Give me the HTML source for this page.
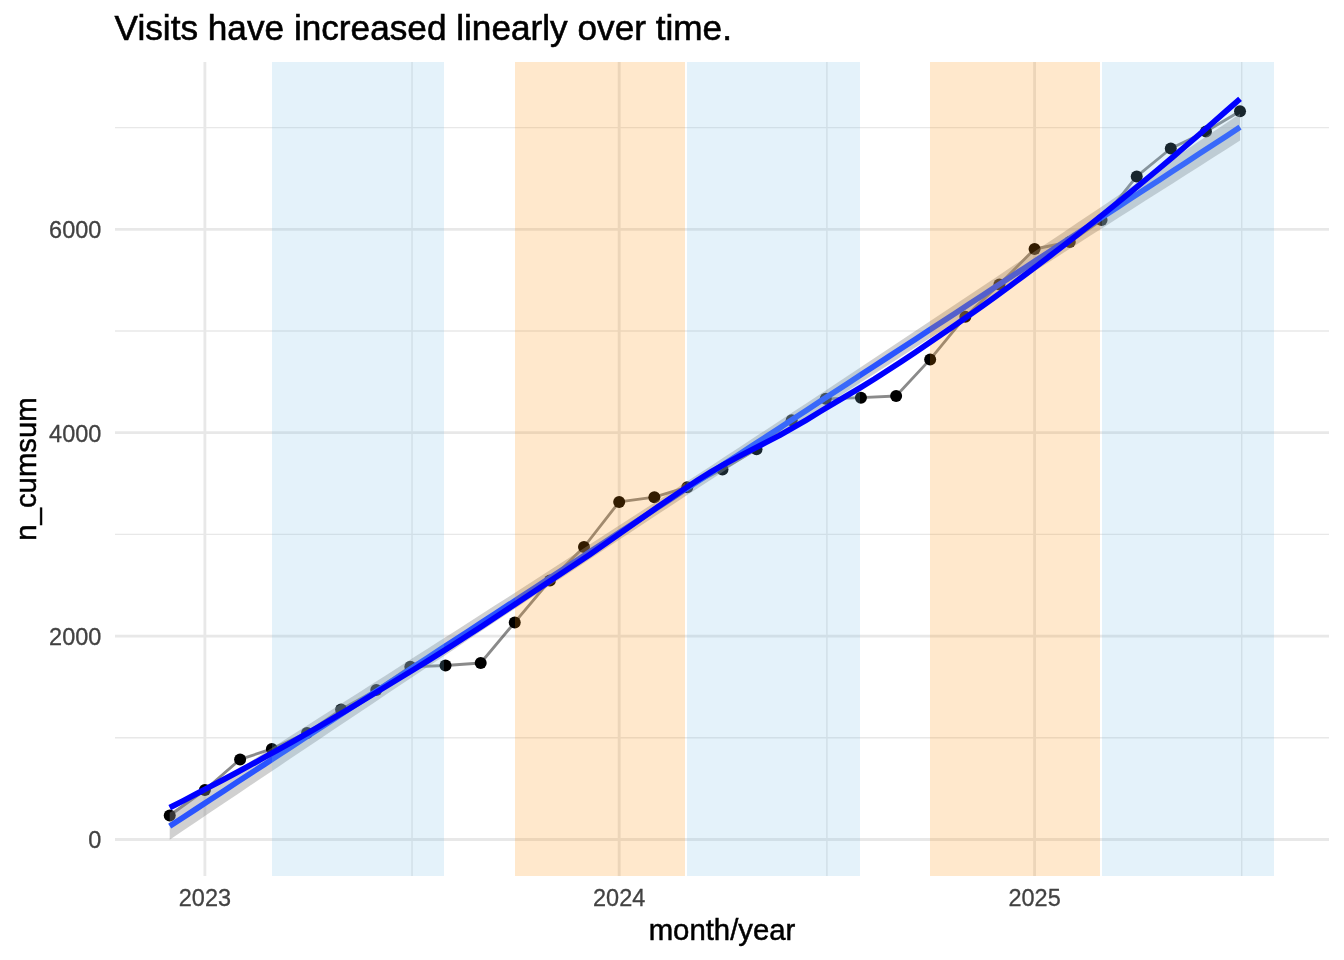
<!DOCTYPE html>
<html lang="en"><head><meta charset="utf-8"><title>Visits have increased linearly over time.</title>
<style>html,body{margin:0;padding:0;background:#fff}svg{display:block}</style></head>
<body>
<svg width="1344" height="960" viewBox="0 0 1344 960">
<rect width="1344" height="960" fill="#fff"/>
<line x1="115.0" x2="1329.0" y1="737.80" y2="737.80" stroke="#E8E8E8" stroke-width="1.42"/>
<line x1="115.0" x2="1329.0" y1="534.40" y2="534.40" stroke="#E8E8E8" stroke-width="1.42"/>
<line x1="115.0" x2="1329.0" y1="331.00" y2="331.00" stroke="#E8E8E8" stroke-width="1.42"/>
<line x1="115.0" x2="1329.0" y1="127.60" y2="127.60" stroke="#E8E8E8" stroke-width="1.42"/>
<line y1="62.0" y2="876.0" x1="412.04" x2="412.04" stroke="#E8E8E8" stroke-width="1.42"/>
<line y1="62.0" y2="876.0" x1="826.88" x2="826.88" stroke="#E8E8E8" stroke-width="1.42"/>
<line y1="62.0" y2="876.0" x1="1241.72" x2="1241.72" stroke="#E8E8E8" stroke-width="1.42"/>
<line x1="115.0" x2="1329.0" y1="839.50" y2="839.50" stroke="#E8E8E8" stroke-width="2.84"/>
<line x1="115.0" x2="1329.0" y1="636.10" y2="636.10" stroke="#E8E8E8" stroke-width="2.84"/>
<line x1="115.0" x2="1329.0" y1="432.70" y2="432.70" stroke="#E8E8E8" stroke-width="2.84"/>
<line x1="115.0" x2="1329.0" y1="229.30" y2="229.30" stroke="#E8E8E8" stroke-width="2.84"/>
<line y1="62.0" y2="876.0" x1="204.90" x2="204.90" stroke="#E8E8E8" stroke-width="2.84"/>
<line y1="62.0" y2="876.0" x1="619.17" x2="619.17" stroke="#E8E8E8" stroke-width="2.84"/>
<line y1="62.0" y2="876.0" x1="1034.59" x2="1034.59" stroke="#E8E8E8" stroke-width="2.84"/>
<path d="M169.72,815.50 L204.90,790.00 L240.09,759.40 L271.87,748.90 L307.05,732.90 L341.10,709.60 L376.28,689.90 L410.34,666.80 L445.52,665.50 L480.71,663.00 L514.75,622.40 L549.94,580.50 L583.99,547.00 L619.17,501.90 L654.36,497.20 L687.27,487.20 L722.46,469.60 L756.51,449.20 L791.69,420.20 L825.75,398.80 L860.93,397.70 L896.12,396.00 L930.16,359.40 L965.35,316.70 L999.40,284.40 L1034.59,249.00 L1069.77,242.00 L1101.55,220.10 L1136.74,176.40 L1170.79,148.50 L1205.97,131.50 L1240.02,111.30" fill="none" stroke="#000" stroke-opacity="0.46" stroke-width="2.84" stroke-linejoin="round"/>
<circle cx="169.72" cy="815.50" r="6" fill="#000"/>
<circle cx="204.90" cy="790.00" r="6" fill="#000"/>
<circle cx="240.09" cy="759.40" r="6" fill="#000"/>
<circle cx="271.87" cy="748.90" r="6" fill="#000"/>
<circle cx="307.05" cy="732.90" r="6" fill="#000"/>
<circle cx="341.10" cy="709.60" r="6" fill="#000"/>
<circle cx="376.28" cy="689.90" r="6" fill="#000"/>
<circle cx="410.34" cy="666.80" r="6" fill="#000"/>
<circle cx="445.52" cy="665.50" r="6" fill="#000"/>
<circle cx="480.71" cy="663.00" r="6" fill="#000"/>
<circle cx="514.75" cy="622.40" r="6" fill="#000"/>
<circle cx="549.94" cy="580.50" r="6" fill="#000"/>
<circle cx="583.99" cy="547.00" r="6" fill="#000"/>
<circle cx="619.17" cy="501.90" r="6" fill="#000"/>
<circle cx="654.36" cy="497.20" r="6" fill="#000"/>
<circle cx="687.27" cy="487.20" r="6" fill="#000"/>
<circle cx="722.46" cy="469.60" r="6" fill="#000"/>
<circle cx="756.51" cy="449.20" r="6" fill="#000"/>
<circle cx="791.69" cy="420.20" r="6" fill="#000"/>
<circle cx="825.75" cy="398.80" r="6" fill="#000"/>
<circle cx="860.93" cy="397.70" r="6" fill="#000"/>
<circle cx="896.12" cy="396.00" r="6" fill="#000"/>
<circle cx="930.16" cy="359.40" r="6" fill="#000"/>
<circle cx="965.35" cy="316.70" r="6" fill="#000"/>
<circle cx="999.40" cy="284.40" r="6" fill="#000"/>
<circle cx="1034.59" cy="249.00" r="6" fill="#000"/>
<circle cx="1069.77" cy="242.00" r="6" fill="#000"/>
<circle cx="1101.55" cy="220.10" r="6" fill="#000"/>
<circle cx="1136.74" cy="176.40" r="6" fill="#000"/>
<circle cx="1170.79" cy="148.50" r="6" fill="#000"/>
<circle cx="1205.97" cy="131.50" r="6" fill="#000"/>
<circle cx="1240.02" cy="111.30" r="6" fill="#000"/>
<path d="M169.72,812.77 L183.26,804.18 L196.81,795.58 L210.36,786.97 L223.91,778.37 L237.46,769.76 L251.00,761.16 L264.55,752.55 L278.10,743.93 L291.65,735.32 L305.20,726.70 L318.74,718.08 L332.29,709.45 L345.84,700.82 L359.39,692.19 L372.94,683.56 L386.49,674.92 L400.03,666.27 L413.58,657.62 L427.13,648.97 L440.68,640.31 L454.23,631.65 L467.77,622.97 L481.32,614.30 L494.87,605.61 L508.42,596.92 L521.97,588.22 L535.52,579.52 L549.06,570.80 L562.61,562.08 L576.16,553.34 L589.71,544.60 L603.26,535.85 L616.80,527.08 L630.35,518.30 L643.90,509.52 L657.45,500.72 L671.00,491.91 L684.55,483.08 L698.09,474.25 L711.64,465.40 L725.19,456.54 L738.74,447.67 L752.29,438.78 L765.83,429.89 L779.38,420.98 L792.93,412.06 L806.48,403.13 L820.03,394.19 L833.58,385.23 L847.12,376.27 L860.67,367.30 L874.22,358.32 L887.77,349.33 L901.32,340.33 L914.86,331.33 L928.41,322.32 L941.96,313.30 L955.51,304.27 L969.06,295.24 L982.60,286.21 L996.15,277.16 L1009.70,268.12 L1023.25,259.06 L1036.80,250.01 L1050.35,240.95 L1063.89,231.88 L1077.44,222.82 L1090.99,213.74 L1104.54,204.67 L1118.09,195.59 L1131.63,186.51 L1145.18,177.43 L1158.73,168.34 L1172.28,159.26 L1185.83,150.17 L1199.38,141.07 L1212.92,131.98 L1226.47,122.88 L1240.02,113.78 L1240.02,140.62 L1226.47,149.21 L1212.92,157.81 L1199.38,166.42 L1185.83,175.02 L1172.28,183.63 L1158.73,192.23 L1145.18,200.84 L1131.63,209.46 L1118.09,218.07 L1104.54,226.69 L1090.99,235.31 L1077.44,243.94 L1063.89,252.57 L1050.35,261.20 L1036.80,269.83 L1023.25,278.47 L1009.70,287.12 L996.15,295.77 L982.60,304.42 L969.06,313.08 L955.51,321.75 L941.96,330.42 L928.41,339.10 L914.86,347.78 L901.32,356.47 L887.77,365.17 L874.22,373.88 L860.67,382.59 L847.12,391.32 L833.58,400.05 L820.03,408.80 L806.48,417.55 L792.93,426.32 L779.38,435.09 L765.83,443.88 L752.29,452.68 L738.74,461.49 L725.19,470.32 L711.64,479.15 L698.09,488.00 L684.55,496.86 L671.00,505.73 L657.45,514.62 L643.90,523.52 L630.35,532.42 L616.80,541.35 L603.26,550.28 L589.71,559.22 L576.16,568.17 L562.61,577.13 L549.06,586.11 L535.52,595.09 L521.97,604.08 L508.42,613.07 L494.87,622.08 L481.32,631.09 L467.77,640.11 L454.23,649.13 L440.68,658.17 L427.13,667.20 L413.58,676.24 L400.03,685.29 L386.49,694.34 L372.94,703.40 L359.39,712.46 L345.84,721.53 L332.29,730.59 L318.74,739.67 L305.20,748.74 L291.65,757.82 L278.10,766.90 L264.55,775.98 L251.00,785.07 L237.46,794.15 L223.91,803.24 L210.36,812.34 L196.81,821.43 L183.26,830.53 L169.72,839.63Z" fill="#8A8A8A" fill-opacity="0.4"/>
<path d="M169.72,826.20 L183.26,817.35 L196.81,808.50 L210.36,799.66 L223.91,790.81 L237.46,781.96 L251.00,773.11 L264.55,764.26 L278.10,755.42 L291.65,746.57 L305.20,737.72 L318.74,728.87 L332.29,720.02 L345.84,711.17 L359.39,702.33 L372.94,693.48 L386.49,684.63 L400.03,675.78 L413.58,666.93 L427.13,658.09 L440.68,649.24 L454.23,640.39 L467.77,631.54 L481.32,622.69 L494.87,613.85 L508.42,605.00 L521.97,596.15 L535.52,587.30 L549.06,578.45 L562.61,569.61 L576.16,560.76 L589.71,551.91 L603.26,543.06 L616.80,534.21 L630.35,525.36 L643.90,516.52 L657.45,507.67 L671.00,498.82 L684.55,489.97 L698.09,481.12 L711.64,472.28 L725.19,463.43 L738.74,454.58 L752.29,445.73 L765.83,436.88 L779.38,428.04 L792.93,419.19 L806.48,410.34 L820.03,401.49 L833.58,392.64 L847.12,383.79 L860.67,374.95 L874.22,366.10 L887.77,357.25 L901.32,348.40 L914.86,339.55 L928.41,330.71 L941.96,321.86 L955.51,313.01 L969.06,304.16 L982.60,295.31 L996.15,286.47 L1009.70,277.62 L1023.25,268.77 L1036.80,259.92 L1050.35,251.07 L1063.89,242.23 L1077.44,233.38 L1090.99,224.53 L1104.54,215.68 L1118.09,206.83 L1131.63,197.98 L1145.18,189.14 L1158.73,180.29 L1172.28,171.44 L1185.83,162.59 L1199.38,153.74 L1212.92,144.90 L1226.47,136.05 L1240.02,127.20" fill="none" stroke="#2A54FF" stroke-width="5.69"/>
<rect x="272.00" y="62.0" width="172.00" height="814.0" fill="rgba(122,192,230,0.2)"/>
<rect x="515.00" y="62.0" width="170.00" height="814.0" fill="rgba(255,140,0,0.2)"/>
<rect x="687.00" y="62.0" width="173.00" height="814.0" fill="rgba(122,192,230,0.2)"/>
<rect x="930.00" y="62.0" width="170.00" height="814.0" fill="rgba(255,140,0,0.2)"/>
<rect x="1102.00" y="62.0" width="172.00" height="814.0" fill="rgba(122,192,230,0.2)"/>
<path d="M169.72,807.61 L183.26,800.66 L196.81,793.64 L210.36,786.55 L223.91,779.38 L237.46,772.13 L251.00,764.79 L264.55,757.37 L278.10,749.85 L291.65,742.24 L305.20,734.51 L318.74,726.68 L332.29,718.74 L345.84,710.71 L359.39,702.60 L372.94,694.42 L386.49,686.18 L400.03,677.90 L413.58,669.58 L427.13,661.23 L440.68,652.78 L454.23,644.17 L467.77,635.45 L481.32,626.60 L494.87,617.66 L508.42,608.66 L521.97,599.63 L535.52,590.60 L549.06,581.59 L562.61,572.63 L576.16,563.68 L589.71,554.52 L603.26,545.18 L616.80,535.67 L630.35,526.12 L643.90,516.60 L657.45,507.15 L671.00,497.85 L684.55,488.76 L698.09,479.93 L711.64,471.53 L725.19,463.71 L738.74,456.38 L752.29,449.42 L765.83,442.58 L779.38,435.52 L792.93,427.85 L806.48,419.94 L820.03,411.66 L833.58,403.48 L847.12,395.47 L860.67,387.48 L874.22,379.17 L887.77,370.44 L901.32,361.55 L914.86,352.51 L928.41,343.34 L941.96,334.14 L955.51,324.84 L969.06,315.41 L982.60,305.86 L996.15,296.13 L1009.70,286.19 L1023.25,276.12 L1036.80,265.94 L1050.35,255.63 L1063.89,245.20 L1077.44,234.66 L1090.99,223.99 L1104.54,213.20 L1118.09,202.28 L1131.63,191.25 L1145.18,180.10 L1158.73,168.83 L1172.28,157.45 L1185.83,145.95 L1199.38,134.33 L1212.92,122.59 L1226.47,110.74 L1240.02,98.77" fill="none" stroke="#0000FF" stroke-width="5.69" stroke-linejoin="round"/>
<text x="114.6" y="39.8" font-family="Liberation Sans, Arial, Helvetica, sans-serif" font-size="35.2" fill="#000" stroke="#000" stroke-width="0.6">Visits have increased linearly over time.</text>
<text x="101.3" y="848.0" font-family="Liberation Sans, Arial, Helvetica, sans-serif" font-size="23.47" fill="#424242" stroke="#424242" stroke-width="0.3" text-anchor="end">0</text>
<text x="101.3" y="645.0" font-family="Liberation Sans, Arial, Helvetica, sans-serif" font-size="23.47" fill="#424242" stroke="#424242" stroke-width="0.3" text-anchor="end">2000</text>
<text x="101.3" y="442.0" font-family="Liberation Sans, Arial, Helvetica, sans-serif" font-size="23.47" fill="#424242" stroke="#424242" stroke-width="0.3" text-anchor="end">4000</text>
<text x="101.3" y="237.9" font-family="Liberation Sans, Arial, Helvetica, sans-serif" font-size="23.47" fill="#424242" stroke="#424242" stroke-width="0.3" text-anchor="end">6000</text>
<text x="204.90" y="906.3" font-family="Liberation Sans, Arial, Helvetica, sans-serif" font-size="23.47" fill="#424242" stroke="#424242" stroke-width="0.3" text-anchor="middle">2023</text>
<text x="619.17" y="906.3" font-family="Liberation Sans, Arial, Helvetica, sans-serif" font-size="23.47" fill="#424242" stroke="#424242" stroke-width="0.3" text-anchor="middle">2024</text>
<text x="1034.59" y="906.3" font-family="Liberation Sans, Arial, Helvetica, sans-serif" font-size="23.47" fill="#424242" stroke="#424242" stroke-width="0.3" text-anchor="middle">2025</text>
<text x="722" y="940" font-family="Liberation Sans, Arial, Helvetica, sans-serif" font-size="29.33" fill="#000" stroke="#000" stroke-width="0.5" text-anchor="middle">month/year</text>
<text transform="translate(35.6,469) rotate(-90)" font-family="Liberation Sans, Arial, Helvetica, sans-serif" font-size="29.33" fill="#000" stroke="#000" stroke-width="0.5" text-anchor="middle">n_cumsum</text>
</svg>
</body></html>
